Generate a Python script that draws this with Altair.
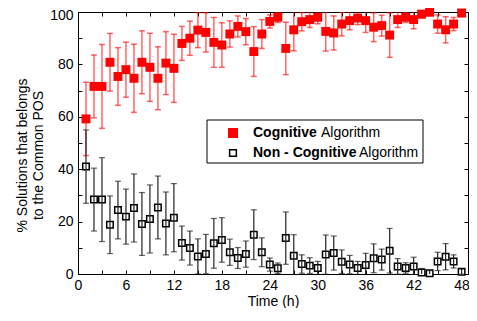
import altair as alt
import pandas as pd

hours = list(range(1, 49))
cognitive = [59.2, 71.6, 71.6, 80.8, 75.4, 78.0, 74.7, 80.8, 78.9, 74.7, 80.5, 78.5,
             88.0, 90.0, 93.1, 92.2, 88.4, 87.4, 91.6, 94.5, 92.5, 84.9, 91.6, 96.4,
             98.0, 86.1, 93.2, 96.3, 97.1, 98.0, 92.6, 92.0, 95.4, 96.7, 97.7, 96.7,
             94.2, 94.8, 91.2, 97.1, 98.0, 97.1, 99.2, 99.9, 95.4, 93.2, 95.4, 99.6]
non_cognitive = [41.0, 28.4, 28.4, 18.8, 24.4, 21.9, 25.2, 19.1, 21.0, 25.4, 19.3, 21.5,
                 11.8, 9.9, 6.7, 7.6, 11.7, 13.0, 8.3, 6.1, 7.6, 15.0, 8.3, 3.6,
                 2.2, 13.7, 7.0, 3.8, 3.2, 2.3, 7.4, 8.0, 4.7, 3.6, 2.3, 3.4,
                 6.0, 5.5, 8.9, 2.9, 2.3, 2.9, 0.6, 0.3, 4.8, 6.6, 4.8, 0.9]
sd = [14, 12, 16, 11, 11, 10.5, 13, 12, 13, 12, 12, 13,
      6.5, 6.5, 6.7, 7.5, 9.5, 8.5, 5, 4, 5, 9.5, 5.5, 2.5,
      2, 10, 8, 3.5, 3, 2.5, 7.5, 6.5, 4.5, 3.5, 2.5, 4.5,
      5.5, 4, 8.5, 3, 2, 3.5, 1.5, 1, 3.5, 5, 2.5, 1]
x_ticks = list(range(0, 49, 3))
y_ticks = list(range(0, 101, 10))

df = pd.DataFrame({"t": hours, "cog": cognitive, "non": non_cognitive, "sd": sd})
df["cog_lo"] = df["cog"] - df["sd"]
df["cog_hi"] = df["cog"] + df["sd"]
df["non_lo"] = df["non"] - df["sd"]
df["non_hi"] = df["non"] + df["sd"]

FONT = "Liberation Sans"
xs = alt.Scale(domain=[0, 48.8], nice=False, zero=False)
ys = alt.Scale(domain=[0, 100], nice=False)
inward = alt.ExprRef(expr="-4")

base = alt.Chart(df)

x_bottom = alt.Axis(values=x_ticks, labelExpr="datum.value % 6 == 0 ? datum.label : ''",
                    title="Time (h)", grid=False, tickSize=inward, labelPadding=8,
                    labelFlush=False, titleBaseline="alphabetic", titleY=31,
                    titleFontWeight="normal")
y_left = alt.Axis(values=y_ticks, labelExpr="datum.value % 20 == 0 ? datum.label : ''",
                  labelOffset=alt.condition("datum.value == 100", alt.value(3), alt.value(0)),
                  title=["% Solutions that belongs", "to the Common POS"], grid=False,
                  tickSize=inward, labelPadding=9, titleBaseline="middle",
                  titleX=-56, titleY=143, titleLineHeight=16, titleFontWeight="normal")
x_top = alt.Axis(values=x_ticks, orient="top", labels=False, title=None, grid=False,
                 tickSize=inward)
y_right = alt.Axis(values=y_ticks, orient="right", labels=False, title=None, grid=False,
                   tickSize=inward)

RED = "#ff0000"
cog_bar = base.mark_rule(color=RED, opacity=0.6, strokeWidth=1.5, clip=True).encode(
    x=alt.X("t:Q", scale=xs, axis=None), y=alt.Y("cog_lo:Q", scale=ys, axis=None), y2="cog_hi:Q")
cog_cap1 = base.mark_tick(color=RED, opacity=0.6, orient="horizontal", size=6, thickness=1.5, clip=True).encode(
    x=alt.X("t:Q", scale=xs, axis=None), y=alt.Y("cog_lo:Q", scale=ys, axis=None))
cog_cap2 = base.mark_tick(color=RED, opacity=0.6, orient="horizontal", size=6, thickness=1.5, clip=True).encode(
    x=alt.X("t:Q", scale=xs, axis=None), y=alt.Y("cog_hi:Q", scale=ys, axis=None))
cog_pts = base.mark_point(shape="square", filled=True, color=RED, opacity=1, size=80).encode(
    x=alt.X("t:Q", scale=xs, axis=x_bottom), y=alt.Y("cog:Q", scale=ys, axis=y_left))

DARK = "#222222"
non_bar = base.mark_rule(color=DARK, strokeWidth=1.2, clip=True).encode(
    x=alt.X("t:Q", scale=xs, axis=None), y=alt.Y("non_lo:Q", scale=ys, axis=None), y2="non_hi:Q")
non_cap1 = base.mark_tick(color=DARK, orient="horizontal", size=6, thickness=1.2, clip=True).encode(
    x=alt.X("t:Q", scale=xs, axis=None), y=alt.Y("non_lo:Q", scale=ys, axis=None))
non_cap2 = base.mark_tick(color=DARK, orient="horizontal", size=6, thickness=1.2, clip=True).encode(
    x=alt.X("t:Q", scale=xs, axis=None), y=alt.Y("non_hi:Q", scale=ys, axis=None))
non_pts = base.mark_point(shape="square", filled=False, fill="white", fillOpacity=1,
                          stroke="black", strokeWidth=1.5, opacity=1, size=42).encode(
    x=alt.X("t:Q", scale=xs, axis=x_top), y=alt.Y("non:Q", scale=ys, axis=y_right))

one = alt.Chart(pd.DataFrame({"a": [0]}))
leg_box = one.mark_rect(fill="white", stroke="black", strokeWidth=1).encode(
    x=alt.value(129), x2=alt.value(345), y=alt.value(108), y2=alt.value(151))
leg_sym1 = one.mark_point(shape="square", filled=True, color=RED, size=100, opacity=1).encode(
    x=alt.value(155), y=alt.value(121))
leg_sym2 = one.mark_point(shape="square", filled=False, fill="white", stroke="black",
                          strokeWidth=1.5, size=45, opacity=1).encode(
    x=alt.value(155), y=alt.value(141))
leg_b1 = one.mark_text(text="Cognitive", font=FONT, fontSize=14, fontWeight="bold",
                       align="left", baseline="middle").encode(x=alt.value(175), y=alt.value(121))
leg_r1 = one.mark_text(text="Algorithm", font=FONT, fontSize=14,
                       align="left", baseline="middle").encode(x=alt.value(243), y=alt.value(121))
leg_b2 = one.mark_text(text="Non - Cognitive", font=FONT, fontSize=14, fontWeight="bold",
                       align="left", baseline="middle").encode(x=alt.value(175), y=alt.value(141))
leg_r2 = one.mark_text(text="Algorithm", font=FONT, fontSize=14,
                       align="left", baseline="middle").encode(x=alt.value(281), y=alt.value(141))

chart = alt.layer(
    cog_pts, non_pts, cog_bar, cog_cap1, cog_cap2, non_bar, non_cap1, non_cap2,
    leg_box, leg_sym1, leg_sym2, leg_b1, leg_r1, leg_b2, leg_r2,
).resolve_axis(x="independent", y="independent").properties(
    width=390, height=262,
    autosize=alt.AutoSizeParams(type="none"),
    padding={"left": 70, "top": 4, "right": 1, "bottom": 34},
    background="white",
).configure_view(stroke="black", strokeWidth=1).configure_axis(
    domainColor="black", domainWidth=1, tickColor="black", tickWidth=1,
    labelFont=FONT, labelFontSize=14, labelColor="black",
    titleFont=FONT, titleFontSize=14, titleColor="black",
)

chart.save("out.html", embed_options={"renderer": "svg", "actions": False})
